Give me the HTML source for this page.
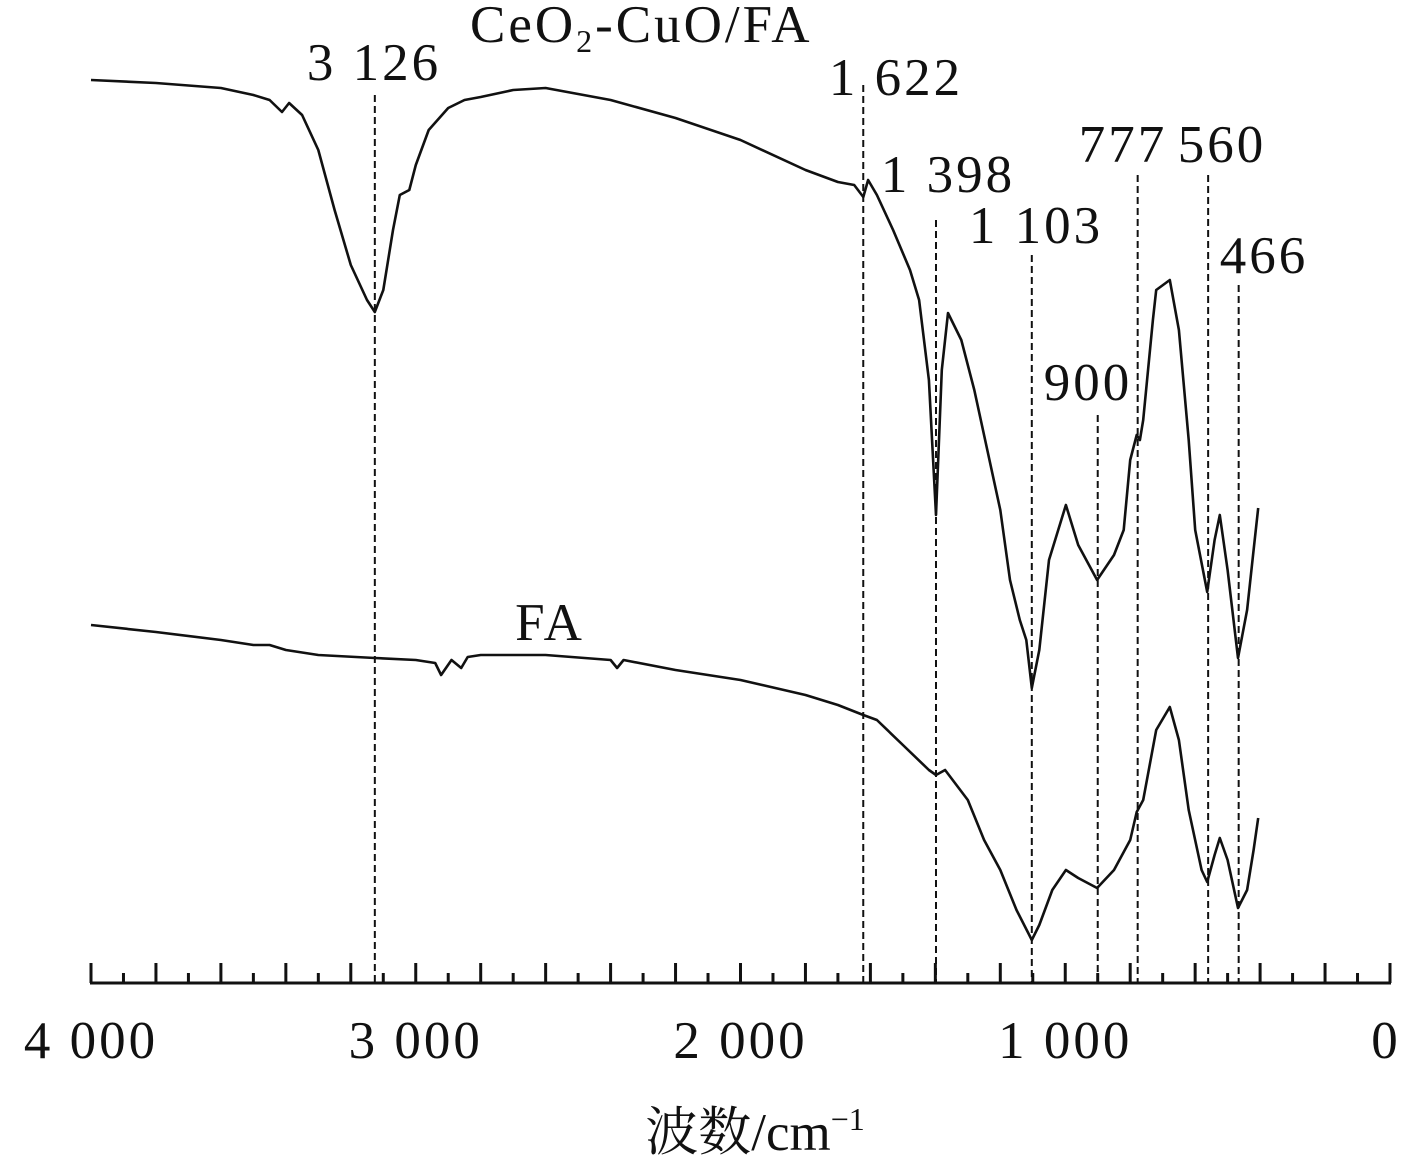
<!DOCTYPE html>
<html><head><meta charset="utf-8"><style>
html,body{margin:0;padding:0;background:#fff}
svg{display:block}
text{font-family:"Liberation Serif","Noto Serif CJK SC",serif;fill:#111}
</style></head><body>
<svg id="chart" width="1418" height="1166" viewBox="0 0 1418 1166" style="position:absolute;left:0;top:0"></svg>
<script>
// Wavenumber (cm^-1) and intensity (a.u.)
const topWn=[4000,3800,3600,3500,3450,3412,3390,3350,3300,3250,3200,3150,3126,3100,3070,3049,3020,3000,2960,2900,2850,2800,2700,2600,2400,2200,2000,1800,1700,1650,1622,1607,1580,1530,1478,1450,1420,1398,1380,1361,1320,1280,1240,1200,1170,1140,1120,1103,1080,1050,998,960,902,850,820,800,780,770,760,730,720,678,650,620,600,563,540,524,500,468,440,420,406];
const topVal=[903,900,895,888,883,871,880,868,833,773,718,683,671,693,753,788,793,818,853,875,883,886,893,895,883,865,843,813,801,798,786,803,788,753,713,683,603,468,613,670,643,593,533,473,403,363,343,295,333,423,478,438,403,428,453,523,548,543,563,663,693,703,653,543,453,391,443,468,413,325,373,433,475];
const faWn=[4000,3800,3600,3500,3450,3400,3300,3126,3000,2940,2922,2890,2860,2840,2800,2600,2400,2380,2360,2200,2000,1800,1700,1622,1580,1500,1420,1398,1370,1300,1250,1200,1150,1103,1080,1040,998,960,902,850,800,780,760,720,678,650,620,580,563,540,524,500,468,440,420,406];
const faVal=[358,351,343,338,338,333,328,325,323,320,308,323,315,326,328,328,323,315,323,313,303,288,278,268,263,238,213,208,213,183,143,113,73,43,58,93,113,105,95,113,143,171,183,253,276,243,173,113,101,128,145,123,75,93,133,165];
const xTicks=[4000,3000,2000,1000,0];
const xTickLabels=["4 000","3 000","2 000","1 000","0"];
const peaks=[3126,1622,1398,1103,900,777,560,466];
const peakLabels=["3 126","1 622","1 398","1 103","900","777","560","466"];
const peakTop=[95,85,220,255,415,175,175,285];
const peakLabelY=[80,95,192,243,400,162,162,273];
const peakLabelX=[374,896,948,1036,1088,1123,1222,1264];

const X0=91,X1=1390,AXY=983;
const x=w=>X0+(4000-w)*(X1-X0)/4000;
const y=v=>AXY-v;
const svg=document.getElementById('chart');
const NS='http://www.w3.org/2000/svg';
function mk(t,a){const e=document.createElementNS(NS,t);for(const k in a)e.setAttribute(k,a[k]);svg.appendChild(e);return e;}

peaks.forEach((p,i)=>{
 const l=mk('line',{x1:x(p),x2:x(p),y1:peakTop[i],y2:AXY,stroke:'#111','stroke-width':2,'stroke-dasharray':'7,4'});
 
 
 const t=mk('text',{x:peakLabelX[i],y:peakLabelY[i],'font-size':53,'letter-spacing':3,'text-anchor':'middle'});
 t.textContent=peakLabels[i];
 
 
});
function path(wn,val,name){
 let d='';wn.forEach((w,i)=>{d+=(i?'L':'M')+x(w).toFixed(1)+','+y(val[i]).toFixed(1);});
 const p=mk('path',{d:d,fill:'none',stroke:'#111','stroke-width':2.6,'stroke-linejoin':'round'});
 
 
}
path(topWn,topVal,'ceo2-cuo-fa-spectrum');
path(faWn,faVal,'fa-spectrum');
const ax=mk('line',{x1:X0-1,x2:X1+1,y1:AXY,y2:AXY,stroke:'#111','stroke-width':3});


for(let w=4000;w>=0;w-=100){
 const major=w%200===0;
 const t=mk('line',{x1:x(w),x2:x(w),y1:AXY,y2:major?AXY-20:AXY-10,stroke:'#111','stroke-width':3});
 
 
}
xTicks.forEach((w,i)=>{
 const t=mk('text',{x:x(w)+(w===0?-4:0),y:1058,'font-size':53,'letter-spacing':3,'text-anchor':'middle'});
 t.textContent=xTickLabels[i];
 
 
});
</script>
<svg style="position:absolute;left:0;top:0" width="1418" height="1166">
<text x="470" y="42" font-size="53" letter-spacing="3">CeO<tspan font-size="32" dy="10">2</tspan><tspan dy="-10">-CuO/FA</tspan></text>
<text x="550" y="640" font-size="53" letter-spacing="3" text-anchor="middle">FA</text>
<text x="755" y="1150" font-size="53" text-anchor="middle">波数/cm<tspan font-size="32" dy="-20">−1</tspan></text>
</svg>
</body></html>
